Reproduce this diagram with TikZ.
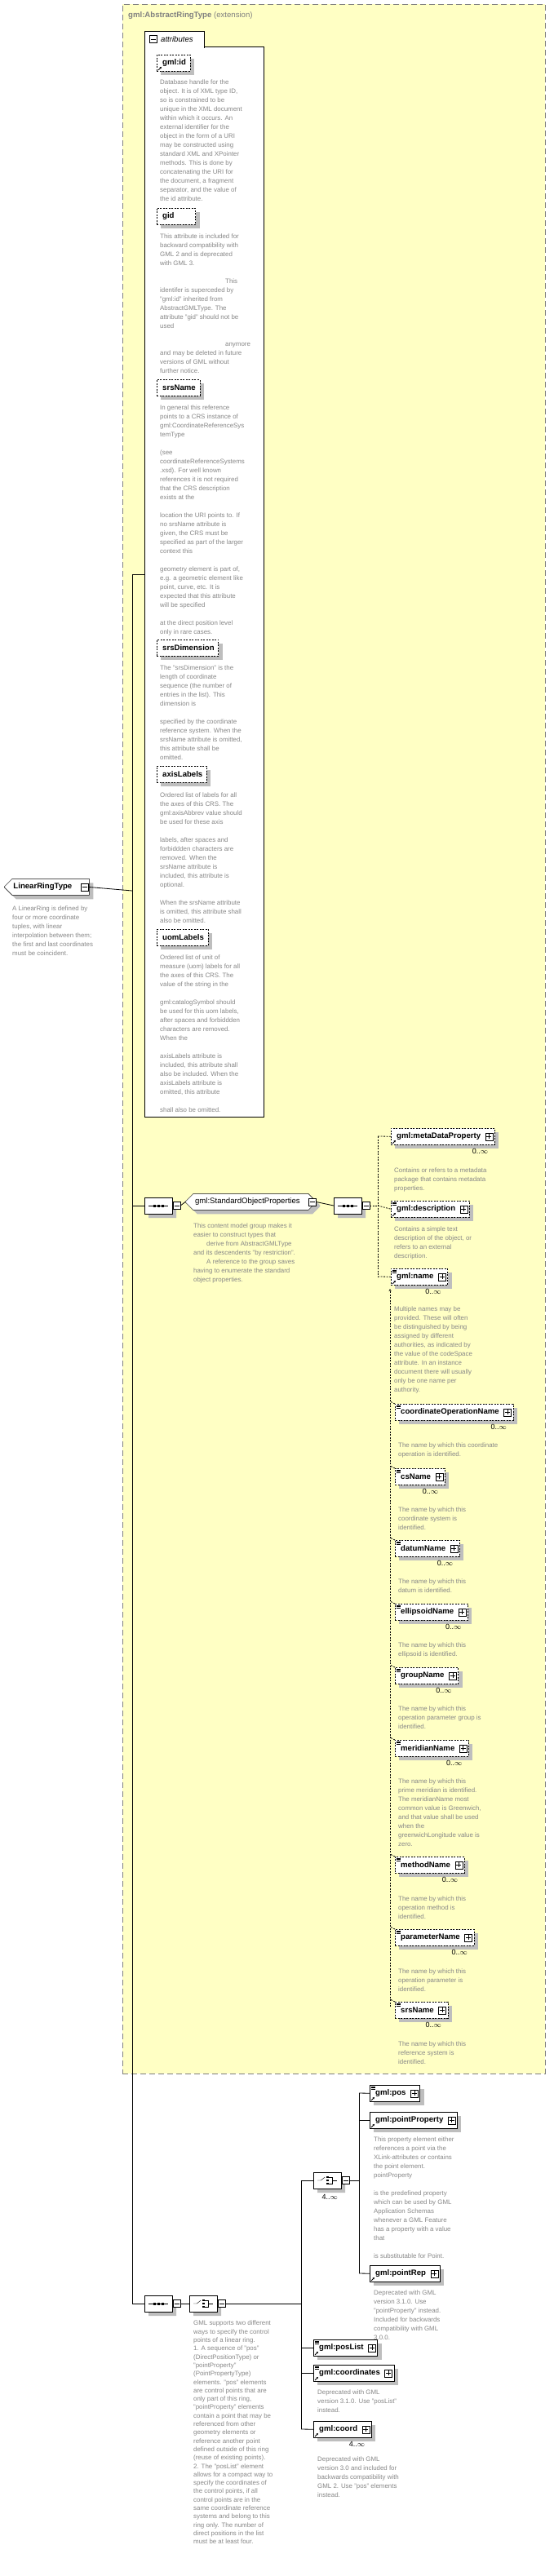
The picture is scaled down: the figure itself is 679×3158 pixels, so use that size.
\documentclass[tikz,border=0pt]{standalone}
\usepackage{fontspec}
\setmainfont{Liberation Sans}
\usetikzlibrary{shapes.misc,shadows,arrows.meta}
\definecolor{descgray}{RGB}{135,135,135}
\definecolor{yel}{RGB}{255,255,196}
\definecolor{shadowgray}{RGB}{190,190,190}
\definecolor{bordergray}{RGB}{128,128,128}
\newcommand\lbl{\fontsize{9.6}{11}\selectfont\bfseries}
\newcommand\dscfont{\fontsize{7.9}{11}\selectfont}
\newcommand\El[5]{\node[elbox,#5] (#1) at (#2,#3) {\kern3pt#4\kern13pt\relax};
  \node[pbox] at ([xshift=-7pt]#1.east) {};}
\newcommand\refm[1]{\draw[-{Stealth[length=2.5pt,width=2.5pt]}, line width=0.9pt] ([shift={(2pt,1.5pt)}]#1.south west) -- ++(4pt,4pt);}
\newcommand\eqm[1]{\foreach \k in {0,1,2}{\draw[line width=0.6pt] ([shift={(2pt,-2pt-\k*1.5pt)}]#1.north west) -- ++(5pt,0);}}
\newcommand\Mu[2]{\node[mult] at ([shift={(-8pt,-5pt)}]#1.south east) {#2};}
\newcommand\seqicon[1]{\draw ([xshift=-12pt]#1.center) -- ([xshift=12pt]#1.center);
  \foreach \k in {-5,0,5}{\fill ([shift={(\k pt-1.5pt,-1.5pt)}]#1.center) rectangle ++(3pt,3pt);}}
\newcommand\choiceicon[1]{\draw ([xshift=-12pt]#1.center) -- ([xshift=-8pt]#1.center) -- ([shift={(-3pt,4pt)}]#1.center);
  \foreach \k in {-4,0,4}{\fill ([shift={(-1pt,\k pt-1.3pt)}]#1.center) rectangle ++(3pt,2.6pt);}
  \draw ([shift={(2pt,4pt)}]#1.center) -- ++(4pt,0) -- ++(0,-8pt) -- ++(-4pt,0);
  \draw ([shift={(6pt,0)}]#1.center) -- ++(6pt,0);}
\tikzset{
 elbox/.style={draw, fill=white, anchor=north west, minimum height=20pt, inner xsep=4pt, inner ysep=0pt, font=\lbl,
   drop shadow={shadow xshift=5pt, shadow yshift=-5pt, fill=shadowgray, opacity=1}},
 opt/.style={dash pattern=on 2pt off 1.5pt},
 mbox/.style={draw, fill=white, minimum size=9pt, inner sep=0pt,
   path picture={\draw ([xshift=1.5pt]path picture bounding box.west) -- ([xshift=-1.5pt]path picture bounding box.east);}},
 pbox/.style={draw, fill=white, minimum size=9pt, inner sep=0pt,
   path picture={\draw ([xshift=1.5pt]path picture bounding box.west) -- ([xshift=-1.5pt]path picture bounding box.east);
     \draw ([yshift=-1.5pt]path picture bounding box.north) -- ([yshift=1.5pt]path picture bounding box.south);}},
 comp/.style={chamfered rectangle, chamfered rectangle sep=5pt, draw, fill=white, minimum width=34pt, minimum height=20pt, inner sep=0pt, anchor=west,
   drop shadow={shadow xshift=5pt, shadow yshift=-5pt, fill=shadowgray, opacity=1}},
 desc/.style={anchor=north west, inner sep=0pt, align=left, font=\dscfont, text=descgray},
 mult/.style={anchor=north east, inner sep=0pt, font=\fontsize{9}{10}\selectfont},
 attr/.style={elbox, opt, font=\lbl},
 con/.style={line width=0.8pt},
 dcon/.style={line width=0.8pt, dash pattern=on 2pt off 1.5pt},
}
\begin{document}
\begin{tikzpicture}[x=1pt,y=-1pt]
\useasboundingbox (0,0) rectangle (679,3158);
% extension box
\node[draw=bordergray, fill=yel, line width=0.9pt, dash pattern=on 7pt off 4pt, minimum width=518pt, minimum height=2537pt, anchor=north west, inner sep=0pt] (ext) at (150,5) {};
\node[anchor=west, inner sep=0pt, font=\fontsize{9.6}{11}\selectfont, text=bordergray] (exttitle) at (157,19) {\textbf{gml:AbstractRingType} (extension)};
% attributes box
\node[draw, fill=white, line width=0.8pt, minimum width=146pt, minimum height=1312pt, anchor=north west, inner sep=0pt] (attrbox) at (177,57) {};
\node[draw, fill=white, line width=0.8pt, minimum width=73pt, minimum height=20pt, anchor=north west, inner sep=0pt] (attrtab) at (177,38) {};
\fill[white] (178,56) rectangle (249.5,59);
\node[mbox] (attrm) at (187.5,48) {};
\node[anchor=west, inner sep=0pt, font=\fontsize{9.6}{11}\selectfont\itshape] (attrlbl) at (197,48) {attributes};
% attributes
\node[attr] (aid) at (192,67) {\kern3pt gml:id\kern1pt\relax}; \refm{aid}
\node[desc] (aidd) at (196,98) {Database handle for the\\object.  It is of XML type ID,\\so is constrained to be\\unique in the XML document\\within which it occurs.  An\\external identifier for the\\object in the form of a URI\\may be constructed using\\standard XML and XPointer\\methods.  This is done by\\concatenating the URI for\\the document, a fragment\\separator, and the value of\\the id attribute.};
\node[attr] (agid) at (192,255) {\kern3pt gid\kern22pt\relax};
\node[desc] (agidd) at (196,287) {This attribute is included for\\backward compatibility with\\GML 2 and is deprecated\\with GML 3.\\[11pt]\hspace*{80pt}This\\identifer is superceded by\\"gml:id" inherited from\\AbstractGMLType. The\\attribute "gid" should not be\\used\\[11pt]\hspace*{80pt}anymore\\and may be deleted in future\\versions of GML without\\further notice.};
\node[attr] (asrs) at (192,465) {\kern3pt srsName\kern1pt\relax};
\node[desc] (asrsd) at (196,497) {In general this reference\\points to a CRS instance of\\gml:CoordinateReferenceSys\\temType\\[11pt](see\\coordinateReferenceSystems\\.xsd). For well known\\references it is not required\\that the CRS description\\exists at the\\[11pt]location the URI points to. If\\no srsName attribute is\\given, the CRS must be\\specified as part of the larger\\context this\\[11pt]geometry element is part of,\\e.g. a geometric element like\\point, curve, etc. It is\\expected that this attribute\\will be specified\\[11pt]at the direct position level\\only in rare cases.};
\node[attr] (adim) at (192,784) {\kern3pt srsDimension\kern1pt\relax};
\node[desc] (adimd) at (196,816) {The "srsDimension" is the\\length of coordinate\\sequence (the number of\\entries in the list). This\\dimension is\\[11pt]specified by the coordinate\\reference system. When the\\srsName attribute is omitted,\\this attribute shall be\\omitted.};
\node[attr] (aax) at (192,939) {\kern3pt axisLabels\kern1pt\relax};
\node[desc] (aaxd) at (196,972) {Ordered list of labels for all\\the axes of this CRS. The\\gml:axisAbbrev value should\\be used for these axis\\[11pt]labels, after spaces and\\forbiddden characters are\\removed. When the\\srsName attribute is\\included, this attribute is\\optional.\\[11pt]When the srsName attribute\\is omitted, this attribute shall\\also be omitted.};
\node[attr] (auom) at (192,1139) {\kern3pt uomLabels\kern1pt\relax};
\node[desc] (auomd) at (196,1171) {Ordered list of unit of\\measure (uom) labels for all\\the axes of this CRS. The\\value of the string in the\\[11pt]gml:catalogSymbol should\\be used for this uom labels,\\after spaces and forbiddden\\characters are removed.\\When the\\[11pt]axisLabels attribute is\\included, this attribute shall\\also be included. When the\\axisLabels attribute is\\omitted, this attribute\\[11pt]shall also be omitted.};
% root
\node[comp, chamfered rectangle corners={north west,south west}, anchor=north west, inner xsep=5pt, font=\lbl, minimum width=104pt] (lrt) at (10,1082) {LinearRingType\kern10pt\relax};
\node[mbox] (lrtm) at ([xshift=-6pt]lrt.east) {};
\node[desc] (lrtd) at (15,1111) {A LinearRing is defined by\\four or more coordinate\\tuples, with linear\\interpolation between them;\\the first and last coordinates\\must be coincident.};
\coordinate (spTop) at (162,704);
\coordinate (spMid) at (162,1092);
\coordinate (spBot) at (162,2824);
\draw[con] (lrtm.east) -- (spMid);
\draw[con] (spTop) -- (spBot);
\draw[con] (spTop) -- (spTop -| attrbox.west);
% standard object properties
\node[comp] (seq1) at (177,1478) {}; \seqicon{seq1}
\node[mbox] (seq1m) at (216.5,1478) {};
\node[comp, anchor=north west, inner xsep=6pt, font=\fontsize{9.6}{11}\selectfont, minimum width=160pt] (grp) at (232,1468) {gml:StandardObjectProperties\kern8pt\relax};
\node[mbox] (grpm) at ([xshift=-5pt]grp.east) {};
\node[comp] (seq2) at (409,1478) {}; \seqicon{seq2}
\node[mbox] (seq2m) at (448.5,1478) {};
\draw[con] (spTop |- seq1) -- (seq1.west);
\draw[con] (seq1m.east) -- (grp.west);
\draw[con] (grpm.east) -- (seq2.west);
\node[desc] (grpd) at (237,1500) {This content model group makes it\\easier to construct types that\\\hspace*{16pt}derive from AbstractGMLType\\and its descendents "by restriction".\\\hspace*{16pt}A reference to the group saves\\having to enumerate the standard\\object properties.};
% children
\El{meta}{479}{1383}{gml:metaDataProperty}{opt} \refm{meta} \Mu{meta}{0..$\infty$}
\node[desc] (metad) at (483,1432) {Contains or refers to a metadata\\package that contains metadata\\properties.};
\El{descr}{479}{1472}{gml:description}{opt} \refm{descr} \eqm{descr}
\node[desc] (descrd) at (483,1504) {Contains a simple text\\description of the object, or\\refers to an external\\description.};
\El{gname}{479}{1555}{gml:name}{opt} \refm{gname} \eqm{gname} \Mu{gname}{0..$\infty$}
\node[desc] (gnamed) at (483,1602) {Multiple names may be\\provided.  These will often\\be distinguished by being\\assigned by different\\authorities, as indicated by\\the value of the codeSpace\\attribute.  In an instance\\document there will usually\\only be one name per\\authority.};
\coordinate (bus1) at (463,1393);
\coordinate (bus2) at (463,1565);
\draw[dcon] (seq2m.east) -- (seq2m -| bus1);
\draw[dcon] (bus1) -- (bus2);
\draw[dcon] (bus1) -- (meta.west);
\draw[dcon] (seq2m -| bus1) -- (descr.west);
\draw[dcon] (bus2) -- (gname.west);
\El{con}{484}{1721}{coordinateOperationName}{opt} \eqm{con} \Mu{con}{0..$\infty$}
\node[desc] (cond) at (488,1769) {The name by which this coordinate\\operation is identified.};
\El{cs}{484}{1800}{csName}{opt} \eqm{cs} \Mu{cs}{0..$\infty$}
\node[desc] (csd) at (488,1848) {The name by which this\\coordinate system is\\identified.};
\El{dat}{484}{1888}{datumName}{opt} \eqm{dat} \Mu{dat}{0..$\infty$}
\node[desc] (datd) at (488,1936) {The name by which this\\datum is identified.};
\El{ell}{484}{1966}{ellipsoidName}{opt} \eqm{ell} \Mu{ell}{0..$\infty$}
\node[desc] (elld) at (488,2014) {The name by which this\\ellipsoid is identified.};
\El{grn}{484}{2044}{groupName}{opt} \eqm{grn} \Mu{grn}{0..$\infty$}
\node[desc] (grnd) at (488,2092) {The name by which this\\operation parameter group is\\identified.};
\El{mer}{484}{2133}{meridianName}{opt} \eqm{mer} \Mu{mer}{0..$\infty$}
\node[desc] (merd) at (488,2181) {The name by which this\\prime meridian is identified.\\The meridianName most\\common value is Greenwich,\\and that value shall be used\\when the\\greenwichLongitude value is\\zero.};
\El{met}{484}{2276}{methodName}{opt} \eqm{met} \Mu{met}{0..$\infty$}
\node[desc] (metd) at (488,2325) {The name by which this\\operation method is\\identified.};
\El{par}{484}{2365}{parameterName}{opt} \eqm{par} \Mu{par}{0..$\infty$}
\node[desc] (pard) at (488,2414) {The name by which this\\operation parameter is\\identified.};
\El{srs}{484}{2454}{srsName}{opt} \eqm{srs} \Mu{srs}{0..$\infty$}
\node[desc] (srsd) at (488,2503) {The name by which this\\reference system is\\identified.};
\draw[dcon, -{Stealth[length=3pt,width=3pt]}] (478,2460) -- (478,1580);
\foreach \n in {con,cs,dat,ell,grn,mer,met,par,srs}{\draw[dcon] (\n.north west) -- ++(-6pt,3pt);}
% bottom part
\node[comp] (seq3) at (177,2824) {}; \seqicon{seq3}
\node[mbox] (seq3m) at (216.5,2824) {};
\node[comp] (ch1) at (232,2824) {}; \choiceicon{ch1}
\node[mbox] (ch1m) at (271.5,2824) {};
\draw[con] (spBot) -- (seq3.west);
\draw[con] (seq3m.east) -- (ch1.west);
\node[desc, font=\fontsize{7.9}{10.3}\selectfont] (ch1d) at (237,2845) {GML supports two different\\ways to specify the control\\points of a linear ring.\\1. A sequence of "pos"\\(DirectPositionType) or\\"pointProperty"\\(PointPropertyType)\\elements. "pos" elements\\are control points that are\\only part of this ring,\\"pointProperty" elements\\contain a point that may be\\referenced from other\\geometry elements or\\reference another point\\defined outside of this ring\\(reuse of existing points).\\2. The "posList" element\\allows for a compact way to\\specify the coordinates of\\the control points, if all\\control points are in the\\same coordinate reference\\systems and belong to this\\ring only. The number of\\direct positions in the list\\must be at least four.};
\node[comp] (ch2) at (384,2673) {}; \choiceicon{ch2}
\node[mbox] (ch2m) at (423.5,2673) {};
\node[mult] (ch2mu) at (414,2690) {4..$\infty$};
\coordinate (b1t) at (369,2673);
\coordinate (b1b) at (369,2978);
\draw[con] (ch1m.east) -- (ch1m -| b1t);
\draw[con] (b1t) -- (b1b);
\draw[con] (b1t) -- (ch2.west);
\El{pos}{453}{2556}{gml:pos}{} \refm{pos} \eqm{pos}
\El{pp}{453}{2589}{gml:pointProperty}{} \refm{pp}
\node[desc] (ppd) at (458,2620) {This property element either\\references a point via the\\XLink-attributes or contains\\the point element.\\pointProperty\\[11pt]is the predefined property\\which can be used by GML\\Application Schemas\\whenever a GML Feature\\has a property with a value\\that\\[11pt]is substitutable for Point.};
\El{pr}{453}{2777}{gml:pointRep}{} \refm{pr}
\node[desc] (prd) at (458,2808) {Deprecated with GML\\version 3.1.0. Use\\"pointProperty" instead.\\Included for backwards\\compatibility with GML\\3.0.0.};
\coordinate (b2t) at (440,2566);
\coordinate (b2b) at (440,2787);
\draw[con] (ch2m.east) -- (ch2m -| b2t);
\draw[con] (b2t) -- (b2b);
\draw[con] (b2t) -- (pos.west);
\draw[con] (b2t |- pp.west) -- (pp.west);
\draw[con] (b2b) -- (pr.west);
\El{pl}{384}{2868}{gml:posList}{} \refm{pl} \eqm{pl}
\El{crd}{384}{2899}{gml:coordinates}{} \refm{crd} \eqm{crd}
\node[desc] (crdd) at (389,2930) {Deprecated with GML\\version 3.1.0. Use "posList"\\instead.};
\El{cd}{384}{2968}{gml:coord}{} \refm{cd} \Mu{cd}{4..$\infty$}
\node[desc] (cdd) at (389,3012) {Deprecated with GML\\version 3.0 and included for\\backwards compatibility with\\GML 2. Use "pos" elements\\instead.};
\draw[con] (b1t |- pl.west) -- (pl.west);
\draw[con] (b1t |- crd.west) -- (crd.west);
\draw[con] (b1b) -- (cd.west);
\end{tikzpicture}
\end{document}
